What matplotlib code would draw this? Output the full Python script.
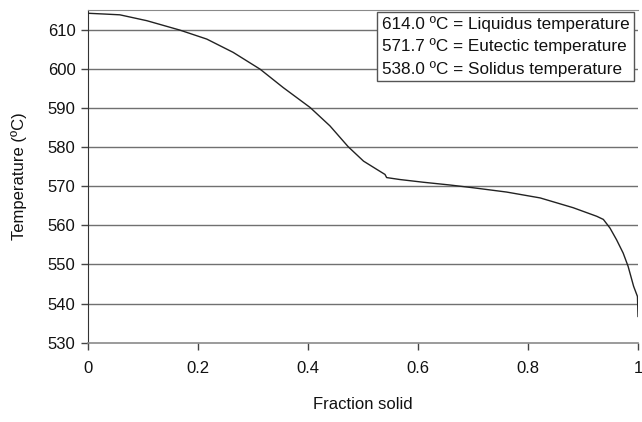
import matplotlib
matplotlib.use('Agg')
import matplotlib.pyplot as plt
import numpy as np

plt.rcParams['font.family'] = ['Liberation Sans', 'DejaVu Sans']

# fraction solid vs temperature
fs = [0.0, 0.03, 0.058, 0.107, 0.167, 0.216, 0.264, 0.313, 0.355, 0.404, 0.44,
      0.473, 0.501, 0.525, 0.540, 0.543, 0.567, 0.61, 0.658, 0.70, 0.761, 0.822,
      0.882, 0.925, 0.937, 0.949, 0.961, 0.973, 0.982, 0.992, 0.999, 1.0]
temp = [614.2, 614.0, 613.8, 612.3, 609.9, 607.6, 604.2, 599.9, 595.2, 590.1, 585.4,
        580.1, 576.4, 574.3, 573.0, 572.2, 571.7, 571.0, 570.3, 569.6, 568.5, 567.0,
        564.5, 562.3, 561.5, 559.3, 556.3, 552.9, 549.5, 544.4, 541.8, 536.7]

xticks = [0, 0.2, 0.4, 0.6, 0.8, 1.0]
xtick_labels = ['0', '0.2', '0.4', '0.6', '0.8', '1']
yticks = list(range(530, 611, 10))

legend_lines = ['614.0 ºC = Liquidus temperature',
                '571.7 ºC = Eutectic temperature',
                '538.0 ºC = Solidus temperature']

fig = plt.figure(figsize=(6.42, 4.22), dpi=100)
ax = fig.add_axes([0.137, 0.188, 0.8568, 0.788])

for y in yticks[1:]:
    ax.axhline(y, color='#707070', lw=1.0, zorder=1)
ax.plot(fs, temp, color='#222222', lw=1.0, zorder=3)

ax.set_xlim(0, 1)
ax.set_ylim(530, 615)
ax.set_xticks(xticks)
ax.set_xticklabels(xtick_labels)
ax.set_yticks(yticks)

ax.spines['right'].set_visible(False)
ax.spines['top'].set_color('#8a8a8a')
ax.spines['left'].set_color('#333333')
ax.spines['bottom'].set_color('#8a8a8a')
ax.spines['bottom'].set_linewidth(1.2)
ax.tick_params(axis='both', direction='out', length=5, width=1, colors='#444444',
               labelsize=12, labelcolor='#111111')
ax.tick_params(axis='y', pad=4)
ax.tick_params(axis='x', pad=8)

ax.set_xlabel('Fraction solid', fontsize=12, labelpad=15, color='#111111')
ax.set_ylabel('Temperature (ºC)', fontsize=12, labelpad=15, color='#111111')

ax.text(0.534, 0.982, '\n'.join(legend_lines), transform=ax.transAxes,
        ha='left', va='top', fontsize=12.3, linespacing=1.5, color='#111111',
        bbox=dict(facecolor='white', edgecolor='#555555', linewidth=1,
                  boxstyle='square,pad=0.25'), zorder=5)

fig.savefig('out.png', dpi=100)
